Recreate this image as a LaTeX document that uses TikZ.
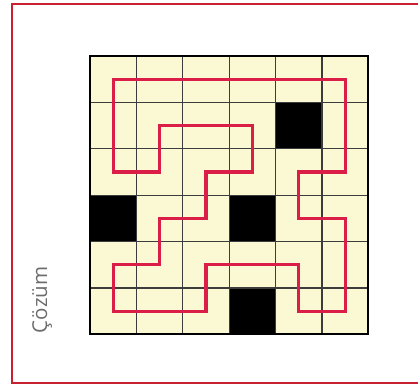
\documentclass[tikz,border=0pt]{standalone}
\usepackage{fontspec}
\newfontfamily\labelfont{Open Sans}
\definecolor{cellyellow}{HTML}{FBF8D4}
\definecolor{pathred}{HTML}{DA1E48}
\definecolor{framered}{HTML}{C9202F}
\definecolor{gridgray}{HTML}{3C3C3C}
\tikzset{
  cell/.style={fill=cellyellow},
  wall/.style={fill=black},
  rule/.style={gridgray, line width=1.2pt},
  loopline/.style={pathred, line width=3.2pt, line join=miter},
}
\begin{document}
\begin{tikzpicture}[x=1pt,y=-1pt]
    \useasboundingbox (0,0) rectangle (418,385);
    % outer frame
    \draw[framered, line width=2pt] (12,4) rectangle (440,383);
    % board
    \fill[cell] (90,56) rectangle (368.4,334.4);
    \fill[wall] (275.6,102.4) rectangle (322,148.8);
    \fill[wall] (90,195.2) rectangle (136.4,241.6);
    \fill[wall] (229.2,195.2) rectangle (275.6,241.6);
    \fill[wall] (229.2,288) rectangle (275.6,334.4);
    \foreach \k in {1,...,5} {
      \draw[rule] ({90+46.4*\k},56) -- ({90+46.4*\k},334.4);
      \draw[rule] (90,{56+46.4*\k}) -- (368.4,{56+46.4*\k});
    }
    \draw[black, line width=2pt] (90,56) rectangle (368.4,334.4);
    % cell centres
    \foreach \c in {0,...,5}
      \foreach \r in {0,...,5}
        \coordinate (p\c\r) at ({90+46.4*(\c+0.5)},{56+46.4*(\r+0.5)});
    % solution loop
    \draw[loopline] (p00) -- (p50) -- (p52) -- (p42) -- (p43) -- (p53)
      -- (p55) -- (p45) -- (p44) -- (p24) -- (p25) -- (p05) -- (p04)
      -- (p14) -- (p13) -- (p23) -- (p22) -- (p32) -- (p31) -- (p11)
      -- (p12) -- (p02) -- cycle;
    \node[rotate=90, text=gray!85!black, font=\labelfont\fontsize{20.5}{22}\selectfont] (title) at (42,300) {Çözüm};
  \end{tikzpicture}
\end{document}
